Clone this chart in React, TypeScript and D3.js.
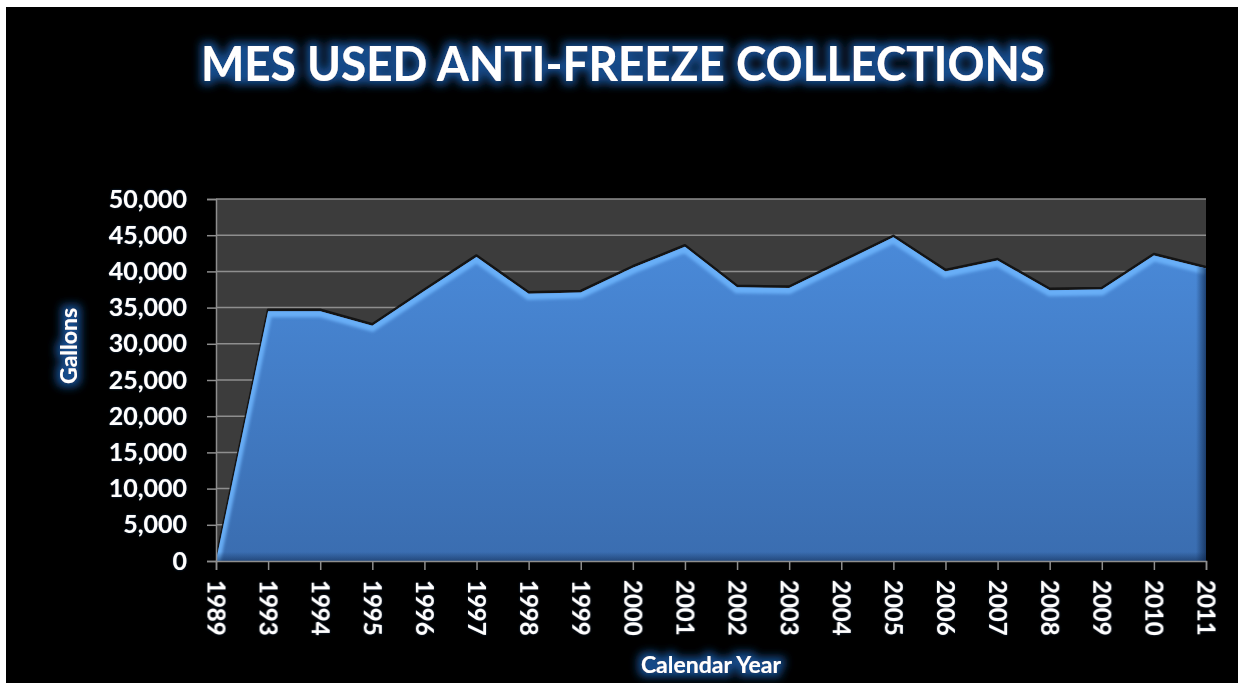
import React, { useEffect, useRef } from "react";
import * as d3 from "d3";

// chart values
const years = ["1989", "1993", "1994", "1995", "1996", "1997", "1998", "1999", "2000", "2001",
  "2002", "2003", "2004", "2005", "2006", "2007", "2008", "2009", "2010", "2011"];
const gallons = [0, 34500, 34500, 32500, 37300, 42000, 36900, 37100, 40500, 43400,
  37800, 37700, 41200, 44700, 40000, 41500, 37400, 37500, 42200, 40400];
const yTicks = [0, 5000, 10000, 15000, 20000, 25000, 30000, 35000, 40000, 45000, 50000];

const chartTitle = "MES USED ANTI-FREEZE COLLECTIONS";
const xTitle = "Calendar Year";
const yTitle = "Gallons";

const W = 1238, H = 683;
const margin = { top: 199, right: 32, bottom: 122, left: 216 };
const FONT = "Lato, 'Open Sans', sans-serif";

function Chart() {
  const ref = useRef<SVGSVGElement>(null);

  useEffect(() => {
    const svg = d3.select(ref.current);
    svg.selectAll("*").remove();

    const x0 = margin.left, x1 = W - margin.right;
    const y0 = H - margin.bottom, y1 = margin.top;

    const x = d3.scalePoint<string>().domain(years).range([x0, x1]);
    const y = d3.scaleLinear().domain([0, 50000]).range([y0, y1]);

    const defs = svg.append("defs");

    // blue halo behind the titles
    const glow = defs.append("filter").attr("id", "glow")
      .attr("x", "-20%").attr("y", "-60%").attr("width", "140%").attr("height", "220%");
    glow.append("feMorphology").attr("in", "SourceAlpha").attr("operator", "dilate").attr("radius", 4).attr("result", "d");
    glow.append("feGaussianBlur").attr("in", "d").attr("stdDeviation", 4).attr("result", "b");
    glow.append("feFlood").attr("flood-color", "#174f92").attr("flood-opacity", 0.95);
    glow.append("feComposite").attr("in2", "b").attr("operator", "in").attr("result", "g");
    const gm = glow.append("feMerge");
    gm.append("feMergeNode").attr("in", "g");
    gm.append("feMergeNode").attr("in", "SourceGraphic");

    const soft = defs.append("filter").attr("id", "soft")
      .attr("x", "-20%").attr("y", "-40%").attr("width", "140%").attr("height", "180%");
    soft.append("feGaussianBlur").attr("in", "SourceAlpha").attr("stdDeviation", 1.2).attr("result", "b");
    soft.append("feFlood").attr("flood-color", "#1a3a66").attr("flood-opacity", 0.8);
    soft.append("feComposite").attr("in2", "b").attr("operator", "in").attr("result", "g");
    const sm = soft.append("feMerge");
    sm.append("feMergeNode").attr("in", "g");
    sm.append("feMergeNode").attr("in", "SourceGraphic");

    const blur = defs.append("filter").attr("id", "blur");
    blur.append("feGaussianBlur").attr("stdDeviation", 1.6);

    const grad = defs.append("linearGradient").attr("id", "areaFill")
      .attr("x1", 0).attr("y1", 0).attr("x2", 0).attr("y2", 1);
    grad.append("stop").attr("offset", "0%").attr("stop-color", "#4a8ad9");
    grad.append("stop").attr("offset", "100%").attr("stop-color", "#3a6db0");

    const rightShade = defs.append("linearGradient").attr("id", "rightShade")
      .attr("x1", 0).attr("y1", 0).attr("x2", 1).attr("y2", 0);
    rightShade.append("stop").attr("offset", "0%").attr("stop-color", "#0c2448").attr("stop-opacity", 0);
    rightShade.append("stop").attr("offset", "100%").attr("stop-color", "#0c2448").attr("stop-opacity", 0.7);

    const bottomShade = defs.append("linearGradient").attr("id", "bottomShade")
      .attr("x1", 0).attr("y1", 0).attr("x2", 0).attr("y2", 1);
    bottomShade.append("stop").attr("offset", "0%").attr("stop-color", "#0c2448").attr("stop-opacity", 0);
    bottomShade.append("stop").attr("offset", "100%").attr("stop-color", "#0c2448").attr("stop-opacity", 0.5);

    const area = d3.area<number>()
      .x((d, i) => x(years[i]) as number)
      .y0(y(0))
      .y1(d => y(d));
    const line = d3.line<number>()
      .x((d, i) => x(years[i]) as number)
      .y(d => y(d));

    defs.append("clipPath").attr("id", "areaClip").append("path").attr("d", area(gallons));
    defs.append("clipPath").attr("id", "plotClip").append("rect")
      .attr("x", x0).attr("y", y1).attr("width", x1 - x0).attr("height", y0 - y1);

    // page background
    svg.append("rect").attr("width", W).attr("height", H).attr("fill", "#ffffff");
    svg.append("rect").attr("x", 6).attr("y", 7).attr("width", W - 6).attr("height", H - 7).attr("fill", "#000000");

    // plot area
    svg.append("rect").attr("x", x0).attr("y", y1).attr("width", x1 - x0).attr("height", y0 - y1)
      .attr("fill", "#3c3c3c");

    svg.append("g").selectAll("line")
      .data(yTicks.filter(t => t > 0))
      .join("line")
      .attr("x1", x0).attr("x2", x1)
      .attr("y1", d => y(d)).attr("y2", d => y(d))
      .attr("stroke", "#8e8e8e").attr("stroke-width", 1.5);

    // dark rim above the area
    svg.append("path")
      .attr("d", line(gallons))
      .attr("clip-path", "url(#plotClip)")
      .attr("transform", "translate(0,-1.5)")
      .attr("fill", "none").attr("stroke", "#101010").attr("stroke-width", 2.5)
      .attr("stroke-opacity", 0.9)
      .attr("stroke-linejoin", "round");

    svg.append("path").attr("d", area(gallons)).attr("fill", "url(#areaFill)");

    const bevel = svg.append("g").attr("clip-path", "url(#areaClip)");
    bevel.append("path")
      .attr("d", line(gallons))
      .attr("transform", "translate(0,2)")
      .attr("fill", "none").attr("stroke", "#6cb2fb").attr("stroke-width", 8)
      .attr("stroke-opacity", 0.9)
      .attr("filter", "url(#blur)");
    bevel.append("rect").attr("x", x1 - 10).attr("y", y1).attr("width", 10).attr("height", y0 - y1)
      .attr("fill", "url(#rightShade)");
    bevel.append("rect").attr("x", x0).attr("y", y0 - 9).attr("width", x1 - x0).attr("height", 9)
      .attr("fill", "url(#bottomShade)");

    // axes
    const yAxis = svg.append("g")
      .attr("transform", `translate(${x0},0)`)
      .call(d3.axisLeft(y).tickValues(yTicks).tickSize(9).tickPadding(20).tickFormat(d3.format(",")));
    const xAxis = svg.append("g")
      .attr("transform", `translate(0,${y0})`)
      .call(d3.axisBottom(x).tickSize(9));

    [yAxis, xAxis].forEach(ax => {
      ax.select(".domain").attr("stroke", "#8e8e8e").attr("stroke-width", 1.5);
      ax.selectAll(".tick line").attr("stroke", "#8e8e8e").attr("stroke-width", 1.5);
      ax.selectAll("text")
        .attr("fill", "#ffffff")
        .attr("filter", "url(#soft)")
        .style("font-family", FONT)
        .style("font-weight", 700)
        .style("font-size", "25px");
    });
    xAxis.selectAll("text")
      .style("font-size", "24px")
      .attr("transform", "rotate(90)")
      .attr("x", 19).attr("y", 0).attr("dy", "0.36em")
      .style("text-anchor", "start");

    // titles
    svg.append("text")
      .attr("x", 623).attr("y", 81)
      .attr("text-anchor", "middle")
      .attr("textLength", 844).attr("lengthAdjust", "spacingAndGlyphs")
      .attr("fill", "#ffffff").attr("filter", "url(#glow)")
      .style("font-family", FONT).style("font-weight", 700).style("font-size", "48px")
      .text(chartTitle);

    svg.append("text")
      .attr("x", (x0 + x1) / 2).attr("y", 673)
      .attr("text-anchor", "middle")
      .attr("fill", "#ffffff").attr("filter", "url(#glow)")
      .style("font-family", FONT).style("font-weight", 700).style("font-size", "23px")
      .text(xTitle);

    svg.append("text")
      .attr("transform", `translate(77,346) rotate(-90)`)
      .attr("text-anchor", "middle")
      .attr("fill", "#ffffff").attr("filter", "url(#glow)")
      .style("font-family", FONT).style("font-weight", 700).style("font-size", "23px")
      .text(yTitle);
  }, []);

  return <svg ref={ref} width={W} height={H} style={{ display: "block" }} />;
}

export default function App() {
  return (
    <div style={{ position: "absolute", left: 0, top: 0 }}>
      <Chart />
    </div>
  );
}
